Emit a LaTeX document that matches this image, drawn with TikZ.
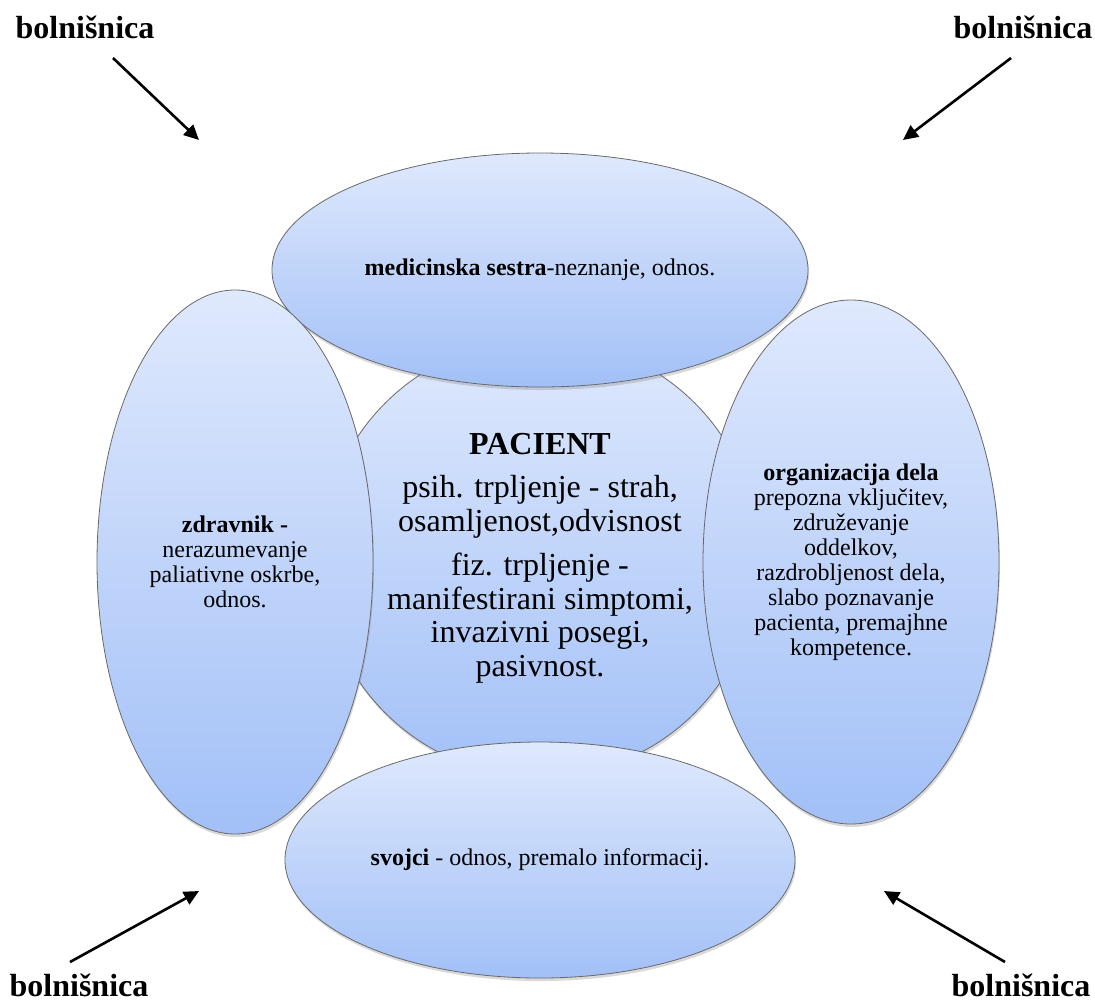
\documentclass[tikz,border=0pt]{standalone}
\usepackage{fontspec}
\setmainfont{Liberation Serif}
\usetikzlibrary{shapes.geometric,shadows,arrows.meta}
\definecolor{fillTop}{RGB}{223,233,253}
\definecolor{fillBot}{RGB}{162,192,247}
\definecolor{edgegray}{RGB}{105,105,105}
\tikzset{
  blob/.style={draw=edgegray, line width=0.8pt, top color=fillTop, bottom color=fillBot,
    inner sep=0pt, align=center, text=black,
    drop shadow={shadow xshift=1pt, shadow yshift=-3pt, opacity=0.3}},
  oval/.style={blob, ellipse},
  smalltext/.style={font=\fontsize{24}{25}\selectfont},
  bigtext/.style={font=\fontsize{32}{33.5}\selectfont},
  label/.style={font=\fontsize{32}{34}\selectfont\bfseries, anchor=base, inner sep=0pt},
  pointer/.style={line width=2.6pt, -{Triangle[length=15pt,width=14pt]}, shorten >=0pt}
}
\begin{document}
\begin{tikzpicture}[x=1pt,y=-1pt]
\useasboundingbox (0,0) rectangle (1095,1005);

% centre circle
\node[blob, circle, minimum size=438pt, bigtext] (pacient) at (540,558)
  {\textbf{PACIENT}\\[10pt]
   psih. trpljenje - strah,\\
   osamljenost,odvisnost\\[11pt]
   fiz. trpljenje -\\
   manifestirani simptomi,\\
   invazivni posegi,\\
   pasivnost.};

% top
\node[oval, minimum width=536pt, minimum height=234pt, smalltext] (sestra) at (540,270)
  {\textbf{medicinska sestra}-neznanje, odnos.};

% left
\node[oval, minimum width=276pt, minimum height=544pt, smalltext] (zdravnik) at (235,562)
  {\textbf{zdravnik -}\\
   nerazumevanje\\
   paliativne oskrbe,\\
   odnos.};

% right
\node[oval, minimum width=296pt, minimum height=524pt, smalltext] (organizacija) at (851,562)
  {\textbf{organizacija dela}\\
   prepozna vključitev,\\
   združevanje\\
   oddelkov,\\
   razdrobljenost dela,\\
   slabo poznavanje\\
   pacienta, premajhne\\
   kompetence.};

% bottom
\node[oval, minimum width=510pt, minimum height=236pt, smalltext] (svojci) at (540,860)
  {\textbf{svojci} - odnos, premalo informacij.};

% hospital labels
\node[label] (btl) at (85,38) {bolnišnica};
\node[label] (btr) at (1023,38) {bolnišnica};
\node[label] (bbl) at (79,996) {bolnišnica};
\node[label] (bbr) at (1021,996) {bolnišnica};

\coordinate (tlA) at (113,58);  \coordinate (tlB) at (199,140);
\coordinate (trA) at (1011,58); \coordinate (trB) at (903,140);
\coordinate (blA) at (70,962);  \coordinate (blB) at (199,891);
\coordinate (brA) at (1005,962); \coordinate (brB) at (884,891);

\draw[pointer] (tlA) -- (tlB);
\draw[pointer] (trA) -- (trB);
\draw[pointer] (blA) -- (blB);
\draw[pointer] (brA) -- (brB);
\end{tikzpicture}
\end{document}
